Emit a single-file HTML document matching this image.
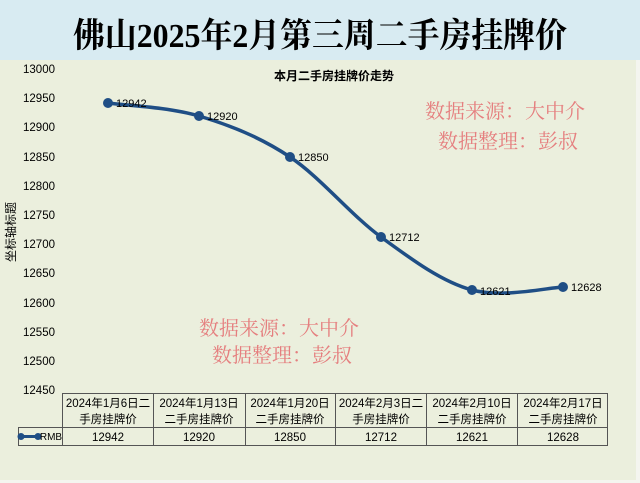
<!DOCTYPE html>
<html><head><meta charset="utf-8"><style>
html,body{margin:0;padding:0;width:640px;height:483px;overflow:hidden;background:#edf0e1}
</style></head><body>
<svg width="640" height="483" viewBox="0 0 640 483" xmlns="http://www.w3.org/2000/svg" style="display:block">
<rect x="0" y="0" width="640" height="483" fill="#f4f5ef"/>
<rect x="0" y="0" width="640" height="60" fill="#d8ebf2"/>
<rect x="0" y="60" width="636" height="420" fill="#ebefdd"/>
<text x="73" y="47" textLength="494" lengthAdjust="spacingAndGlyphs" font-family="'Liberation Serif','Noto Serif CJK SC',serif" font-size="34" font-weight="bold" fill="#000">佛山2025年2月第三周二手房挂牌价</text>
<text x="334" y="80" text-anchor="middle" font-family="'Liberation Sans','Noto Sans CJK SC',sans-serif" font-size="12" font-weight="bold" fill="#000">本月二手房挂牌价走势</text>
<g font-family="'Liberation Sans','Noto Sans CJK SC',sans-serif" font-size="11.5" fill="#000" text-anchor="end">
<text x="55" y="73">13000</text><text x="55" y="102">12950</text><text x="55" y="131">12900</text>
<text x="55" y="161">12850</text><text x="55" y="190">12800</text><text x="55" y="219">12750</text>
<text x="55" y="248">12700</text><text x="55" y="277">12650</text><text x="55" y="307">12600</text>
<text x="55" y="336">12550</text><text x="55" y="365">12500</text><text x="55" y="394">12450</text>
</g>
<text transform="translate(15,232) rotate(-90)" text-anchor="middle" font-family="'Liberation Sans','Noto Sans CJK SC',sans-serif" font-size="12" fill="#000">坐标轴标题</text>
<path d="M108,103 C123.2,105.2 168.7,107 199,116 C229.3,125 259.7,136.8 290,157 C320.3,177.2 350.7,214.8 381,237 C411.3,259.2 441.7,281.8 472,290 C502.3,298.2 547.8,287.7 563,287" fill="none" stroke="#1f4e85" stroke-width="3.5"/>
<g fill="#1f4e85">
<circle cx="108" cy="103" r="5"/><circle cx="199" cy="116" r="5"/><circle cx="290" cy="157" r="5"/>
<circle cx="381" cy="237" r="5"/><circle cx="472" cy="290" r="5"/><circle cx="563" cy="287" r="5"/>
</g>
<g font-family="'Liberation Sans',sans-serif" font-size="11" fill="#000">
<text x="116" y="107">12942</text><text x="207" y="120">12920</text><text x="298" y="161">12850</text>
<text x="389" y="241">12712</text><text x="480" y="295">12621</text><text x="571" y="291">12628</text>
</g>
<g font-family="'Noto Serif CJK SC','Liberation Serif',serif" font-size="20" fill="#e57f7f">
<text x="425" y="118">数据来源：大中介</text><text x="438" y="148">数据整理：彭叔</text>
<text x="199" y="335">数据来源：大中介</text><text x="212" y="362">数据整理：彭叔</text>
</g>
<g stroke="#555" stroke-width="1" fill="none">
<rect x="62.5" y="393.5" width="545" height="52"/>
<line x1="18" y1="427.5" x2="608" y2="427.5"/>
<line x1="18" y1="445.5" x2="62" y2="445.5"/>
<line x1="18.5" y1="427" x2="18.5" y2="446"/>
<line x1="153.5" y1="393" x2="153.5" y2="446"/><line x1="245.5" y1="393" x2="245.5" y2="446"/>
<line x1="335.5" y1="393" x2="335.5" y2="446"/><line x1="426.5" y1="393" x2="426.5" y2="446"/>
<line x1="517.5" y1="393" x2="517.5" y2="446"/>
</g>
<line x1="21" y1="436.5" x2="38" y2="436.5" stroke="#1f4e85" stroke-width="3"/>
<circle cx="21" cy="436.5" r="3.5" fill="#1f4e85"/><circle cx="38" cy="436.5" r="3.5" fill="#1f4e85"/>
<g font-family="'Liberation Sans','Noto Sans CJK SC',sans-serif" font-size="11.5" fill="#000" text-anchor="middle">
<text x="51" y="440" font-size="10">RMB</text>
<text x="108" y="407">2024年1月6日二</text><text x="108" y="423">手房挂牌价</text>
<text x="199" y="407">2024年1月13日</text><text x="199" y="423">二手房挂牌价</text>
<text x="290" y="407">2024年1月20日</text><text x="290" y="423">二手房挂牌价</text>
<text x="381" y="407">2024年2月3日二</text><text x="381" y="423">手房挂牌价</text>
<text x="472" y="407">2024年2月10日</text><text x="472" y="423">二手房挂牌价</text>
<text x="563" y="407">2024年2月17日</text><text x="563" y="423">二手房挂牌价</text>
<text x="108" y="441">12942</text><text x="199" y="441">12920</text><text x="290" y="441">12850</text>
<text x="381" y="441">12712</text><text x="472" y="441">12621</text><text x="563" y="441">12628</text>
</g>
</svg>
</body></html>
